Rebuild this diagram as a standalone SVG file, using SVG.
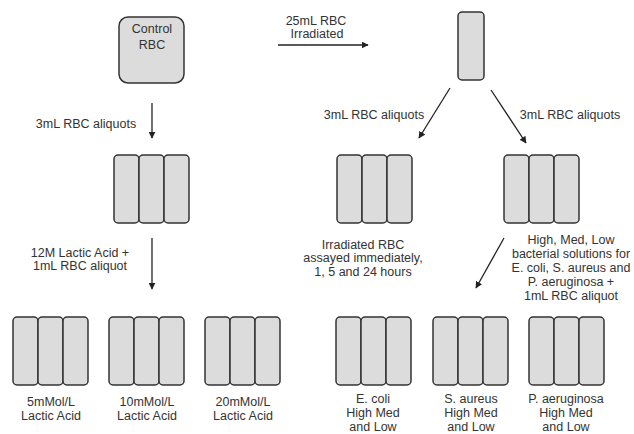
<svg xmlns="http://www.w3.org/2000/svg" width="634" height="434" viewBox="0 0 634 434">
<defs>
<marker id="ah" viewBox="0 0 10 10" refX="9" refY="5" markerWidth="7" markerHeight="7" markerUnits="userSpaceOnUse" orient="auto">
<path d="M0,0 L10,5 L0,10 z" fill="#222"/>
</marker>
<g id="tri">
<rect x="0" y="0" width="25" height="68" rx="4" class="tube"/>
<rect x="25" y="0" width="25" height="68" rx="4" class="tube"/>
<rect x="50" y="0" width="25" height="68" rx="4" class="tube"/>
</g>
</defs>
<style>
.tube{fill:#dcdcdc;stroke:#333;stroke-width:1.5}
.box{fill:#dcdcdc;stroke:#333;stroke-width:1.5}
.t{font-family:"Liberation Sans",Arial,sans-serif;font-size:12.5px;fill:#333;text-anchor:middle}
.tl{font-family:"Liberation Sans",Arial,sans-serif;font-size:12.5px;fill:#333}
.c{stroke:#222;stroke-width:1.3;fill:none;marker-end:url(#ah)}
</style>
<rect width="634" height="434" fill="#fff"/>
<g id="control">
<rect x="119" y="17" width="65" height="66" rx="9" class="box"/>
<text class="t" x="152" y="33">Control</text>
<text class="t" x="152" y="49">RBC</text>
</g>
<g id="irradiated">
<rect x="458" y="12" width="26" height="68" rx="4" class="tube"/>
</g>
<g id="control-aliquots"><use href="#tri" x="114" y="155"/></g>
<g id="irr-aliquots-a"><use href="#tri" x="337" y="155"/>
<text class="t" x="363" y="249">Irradiated RBC</text>
<text class="t" x="363" y="262">assayed immediately,</text>
<text class="t" x="363" y="276">1, 5 and 24 hours</text>
</g>
<g id="irr-aliquots-b"><use href="#tri" x="504" y="155"/></g>
<g id="lactic5"><use href="#tri" x="13" y="317"/>
<text class="t" x="51" y="406">5mMol/L</text>
<text class="t" x="51" y="420">Lactic Acid</text>
</g>
<g id="lactic10"><use href="#tri" x="109" y="317"/>
<text class="t" x="147" y="406">10mMol/L</text>
<text class="t" x="147" y="420">Lactic Acid</text>
</g>
<g id="lactic20"><use href="#tri" x="205" y="317"/>
<text class="t" x="243" y="406">20mMol/L</text>
<text class="t" x="243" y="420">Lactic Acid</text>
</g>
<g id="ecoli"><use href="#tri" x="336" y="317"/>
<text class="t" x="373" y="403">E. coli</text>
<text class="t" x="373" y="417">High Med</text>
<text class="t" x="373" y="431">and Low</text>
</g>
<g id="saureus"><use href="#tri" x="433" y="317"/>
<text class="t" x="471" y="403">S. aureus</text>
<text class="t" x="471" y="417">High Med</text>
<text class="t" x="471" y="431">and Low</text>
</g>
<g id="paeruginosa"><use href="#tri" x="529" y="317"/>
<text class="t" x="566" y="403">P. aeruginosa</text>
<text class="t" x="566" y="417">High Med</text>
<text class="t" x="566" y="431">and Low</text>
</g>
<g id="connectors">
<line class="c" x1="278" y1="45" x2="368" y2="45"/>
<text class="t" x="316" y="25">25mL RBC</text>
<text class="t" x="317" y="38">Irradiated</text>
<line class="c" x1="152" y1="103" x2="152" y2="138"/>
<text class="t" x="86" y="128">3mL RBC aliquots</text>
<line class="c" x1="450" y1="88" x2="419" y2="138"/>
<text class="t" x="374" y="119">3mL RBC aliquots</text>
<line class="c" x1="491" y1="90" x2="526" y2="143"/>
<text class="t" x="570" y="119">3mL RBC aliquots</text>
<line class="c" x1="152" y1="238" x2="152" y2="289"/>
<text class="t" x="80" y="257">12M Lactic Acid +</text>
<text class="t" x="80" y="270">1mL RBC aliquot</text>
<line class="c" x1="504" y1="238" x2="476" y2="288"/>
<text class="t" x="571" y="244">High, Med, Low</text>
<text class="t" x="571" y="258">bacterial solutions for</text>
<text class="t" x="571" y="272">E. coli, S. aureus and</text>
<text class="t" x="571" y="286">P. aeruginosa +</text>
<text class="t" x="571" y="300">1mL RBC aliquot</text>
</g>
</svg>
